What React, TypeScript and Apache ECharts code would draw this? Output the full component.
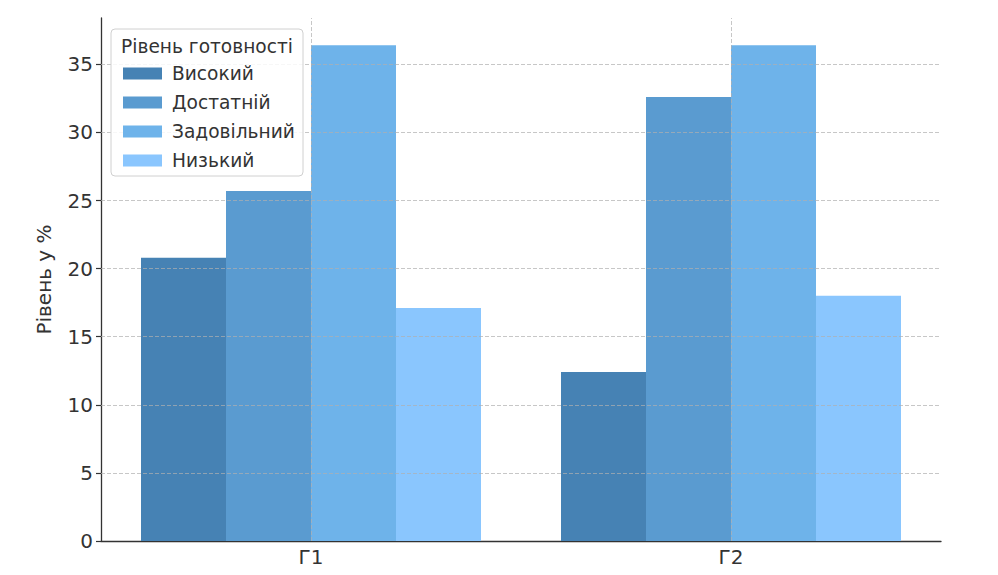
import React, { useEffect, useRef } from "react";
import * as echarts from "echarts";

// Groups and readiness levels
const groups = ["Г1", "Г2"];
const levels = ["Високий", "Достатній", "Задовільний", "Низький"];
const levelColors = ["#4682B4", "#5A9BD0", "#6EB3EA", "#8AC6FE"];

// Share of each readiness level per group, %
const vysokyi = [20.8, 12.4];
const dostatnii = [25.7, 32.6];
const zadovilnyi = [36.4, 36.4];
const nyzkyi = [17.1, 18.0];
const seriesValues = [vysokyi, dostatnii, zadovilnyi, nyzkyi];

const yTicks = [0, 5, 10, 15, 20, 25, 30, 35];
const yMax = 38.4;

const FONT = "DejaVu Sans";
const TEXT = "#333333";
const gridStyle = { color: "rgba(175,175,175,0.7)", width: 1, type: [4, 2] as number[] };

export default function App() {
  const ref = useRef<HTMLDivElement>(null);

  useEffect(() => {
    if (!ref.current) return;
    const chart = echarts.init(ref.current, null, { renderer: "svg" });

    const bars = levels.map((name, i) => ({
      name,
      type: "bar",
      data: seriesValues[i],
      barWidth: 85,
      barGap: "0%",
      itemStyle: { color: levelColors[i] },
      z: 2,
    }));

    // Dashed grid lines drawn over the bars
    const gridLines = {
      name: "grid",
      type: "line",
      data: [],
      z: 5,
      silent: true,
      markLine: {
        silent: true,
        symbol: "none",
        label: { show: false },
        lineStyle: gridStyle,
        emphasis: { disabled: true },
        data: [
          ...groups.map((g) => ({ xAxis: g })),
          ...yTicks.filter((v) => v > 0).map((v) => ({ yAxis: v })),
        ],
      },
    };

    chart.setOption({
      animation: false,
      backgroundColor: "#ffffff",
      textStyle: { fontFamily: FONT },
      grid: { left: 93, top: 10, right: 49, bottom: 34, containLabel: false },
      xAxis: {
        type: "category",
        data: groups,
        axisLine: { lineStyle: { color: TEXT, width: 1.3 } },
        axisTick: { alignWithLabel: true, length: 5, lineStyle: { color: TEXT, width: 1.2 } },
        axisLabel: { color: TEXT, fontSize: 20, fontFamily: FONT, margin: 6 },
        splitLine: { show: false },
      },
      yAxis: {
        type: "value",
        min: 0,
        max: yMax,
        interval: 5,
        name: "Рівень у %",
        nameLocation: "middle",
        nameGap: 47,
        nameTextStyle: { color: TEXT, fontSize: 20, fontFamily: FONT },
        axisLine: { show: true, lineStyle: { color: TEXT, width: 1.3 } },
        axisTick: { show: true, length: 5, customValues: yTicks, lineStyle: { color: TEXT, width: 1.2 } },
        axisLabel: { color: TEXT, fontSize: 20, fontFamily: FONT, margin: 8, customValues: yTicks },
        splitLine: { show: false },
      },
      legend: {
        data: levels,
        orient: "vertical",
        left: 110,
        top: 51,
        itemWidth: 39,
        itemHeight: 12,
        itemGap: 10,
        icon: "rect",
        selectedMode: false,
        z: 12,
        textStyle: { color: TEXT, fontSize: 18.6, fontFamily: FONT, padding: [0, 0, 0, 5] },
      },
      graphic: [
        {
          type: "rect",
          z: 11,
          shape: { x: 103, y: 21, width: 192, height: 147, r: 4 },
          style: { fill: "rgba(255,255,255,0.85)", stroke: "#d0d0d0", lineWidth: 1 },
        },
        {
          type: "text",
          z: 12,
          x: 199,
          y: 38,
          style: {
            text: "Рівень готовності",
            fill: TEXT,
            font: `18.6px "${FONT}"`,
            textAlign: "center",
            textVerticalAlign: "middle",
          },
        },
      ],
      series: [...bars, gridLines],
    });

    return () => chart.dispose();
  }, []);

  return <div ref={ref} style={{ width: 982, height: 567 }} />;
}
